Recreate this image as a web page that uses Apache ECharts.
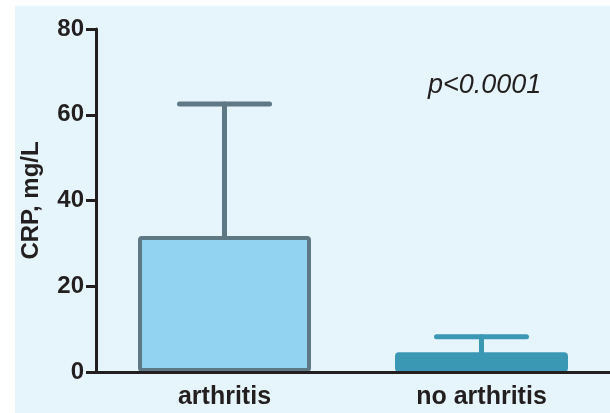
<!DOCTYPE html>
<html><head><meta charset="utf-8">
<script src="https://cdn.jsdelivr.net/npm/echarts@6/dist/echarts.min.js"></script>
<style>html,body{margin:0;padding:0;background:#fff}#c{width:610px;height:413px}</style>
</head><body><div id="c"></div>
<script>
const categories = ['arthritis', 'no arthritis'];
const means = [31.7, 4.6];
const upper = [62.5, 8.2];
const yTicks = [0, 20, 40, 60, 80];
const barFill = ['#93d3f2', '#3a98b5'];
const barEdge = ['#5f7886', '#3a98b5'];

const chart = echarts.init(document.getElementById('c'));
const font = '"Liberation Sans", Arial, Helvetica, sans-serif';
chart.setOption({
  animation: false,
  graphic: [
    {type: 'rect', left: 15, top: 6, z: -10, shape: {width: 595, height: 407}, style: {fill: '#e6f4fb'}},
    {type: 'text', left: 428, top: 72, z: 10, style: {text: 'p<0.0001', font: 'italic 27px ' + font, fill: '#231f20'}}
  ],
  grid: {left: 96, top: 29, right: 0, bottom: 41},
  xAxis: {
    type: 'category', data: categories,
    axisLine: {lineStyle: {color: '#231f20', width: 3}},
    axisTick: {alignWithLabel: true, length: 9, lineStyle: {color: '#231f20', width: 3}},
    axisLabel: {margin: 13, color: '#231f20', fontSize: 25, fontWeight: 'bold', fontFamily: font},
    z: 5
  },
  yAxis: {
    type: 'value', min: yTicks[0], max: yTicks[yTicks.length - 1], interval: 20,
    name: 'CRP, mg/L', nameLocation: 'middle', nameGap: 53,
    nameTextStyle: {color: '#231f20', fontSize: 24, fontWeight: 'bold', fontFamily: font},
    axisLine: {show: true, lineStyle: {color: '#231f20', width: 3}},
    axisTick: {show: true, length: 10, lineStyle: {color: '#231f20', width: 3}},
    axisLabel: {margin: 12, color: '#231f20', fontSize: 24, fontWeight: 'bold', fontFamily: font},
    splitLine: {show: false}
  },
  series: [
    {
      type: 'custom', z: 1,
      data: categories.map((c, i) => [i, means[i], upper[i]]),
      renderItem: function (params, api) {
        const i = api.value(0);
        const top = api.coord([i, api.value(2)]);
        const base = api.coord([i, api.value(1)]);
        const half = 45;
        const st = {stroke: barEdge[i], lineWidth: 5, lineCap: 'round'};
        return {type: 'group', children: [
          {type: 'line', shape: {x1: top[0], y1: top[1], x2: base[0], y2: base[1]}, style: st},
          {type: 'line', shape: {x1: top[0] - half, y1: top[1], x2: top[0] + half, y2: top[1]}, style: st}
        ]};
      }
    },
    {
      type: 'bar', z: 2, barWidth: 173,
      data: means.map((v, i) => ({value: v, itemStyle: {color: barFill[i], borderColor: barEdge[i], borderWidth: 4, borderRadius: 2}}))
    }
  ]
});
</script></body></html>
